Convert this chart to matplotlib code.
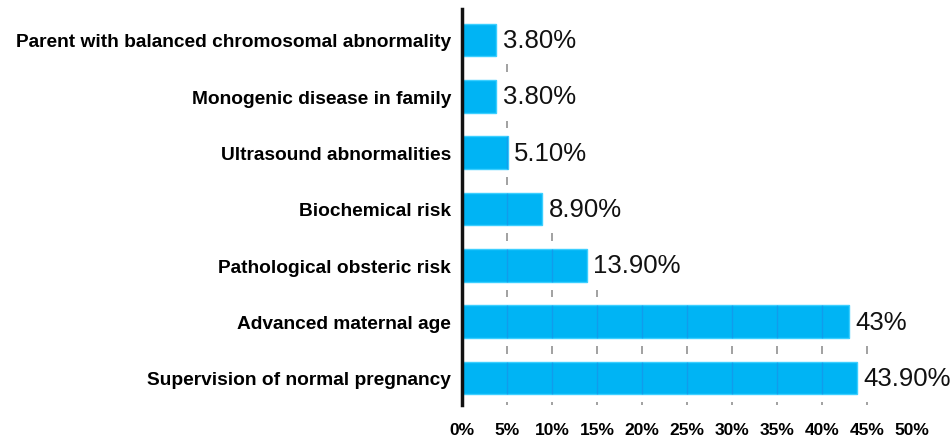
import numpy as np
import matplotlib
matplotlib.use("Agg")
import matplotlib.pyplot as plt

categories = [
    "Supervision of normal pregnancy",
    "Advanced maternal age",
    "Pathological obsteric risk",
    "Biochemical risk",
    "Ultrasound abnormalities",
    "Monogenic disease in family",
    "Parent with balanced chromosomal abnormality",
]
values = [43.9, 43.0, 13.9, 8.9, 5.1, 3.8, 3.8]
value_labels = ["43.90%", "43%", "13.90%", "8.90%", "5.10%", "3.80%", "3.80%"]
xticks = [0, 5, 10, 15, 20, 25, 30, 35, 40, 45, 50]
xtick_labels = ["0%", "5%", "10%", "15%", "20%", "25%", "30%", "35%", "40%", "45%", "50%"]

plt.rcParams['font.family'] = ['Liberation Sans', 'DejaVu Sans']

fig = plt.figure(figsize=(9.52, 4.39), dpi=100)
ax = fig.add_axes([462/952, 1-406/439, 450/952, (406-10)/439])

y = np.arange(len(categories))
bar_h = 0.58
ax.barh(y, values, height=bar_h, color="#00B4F4", edgecolor="#3CCFFF", linewidth=1.0, zorder=2)

# grid fragments: darker lines within bars, short dashes in the gaps below each bar
for k, v in enumerate(values):
    lim = max(5, np.round(v / 5.0) * 5)
    inside = [t for t in xticks if 0 < t < v]
    if inside:
        ax.vlines(inside, k - bar_h/2, k + bar_h/2, colors="#1E8CE6", linewidth=1.0, alpha=0.6, zorder=3)
    gap = [t for t in xticks if 0 < t <= lim]
    ax.vlines(gap, k - 0.5 - 0.07, k - 0.5 + 0.07, colors="#9A9A9A", linewidth=1.3, zorder=1)

for k, (v, lab) in enumerate(zip(values, value_labels)):
    ax.text(v + 0.7, k, lab, va="center", ha="left", fontsize=18.5, color="#111111")

ax.set_xlim(0, 50)
ax.set_ylim(-0.48, 6.55)
ax.set_xticks(xticks)
ax.set_xticklabels(xtick_labels, fontsize=12.5, fontweight="bold")
ax.set_yticks(y)
ax.set_yticklabels(categories, fontsize=13.8, fontweight="bold")
ax.tick_params(axis="both", length=0)
ax.tick_params(axis="x", pad=12)
ax.tick_params(axis="y", pad=8)
for s in ["top", "right", "bottom"]:
    ax.spines[s].set_visible(False)
ax.spines["left"].set_linewidth(2.5)
ax.spines["left"].set_color("#111111")

fig.savefig("out.png", dpi=100)
